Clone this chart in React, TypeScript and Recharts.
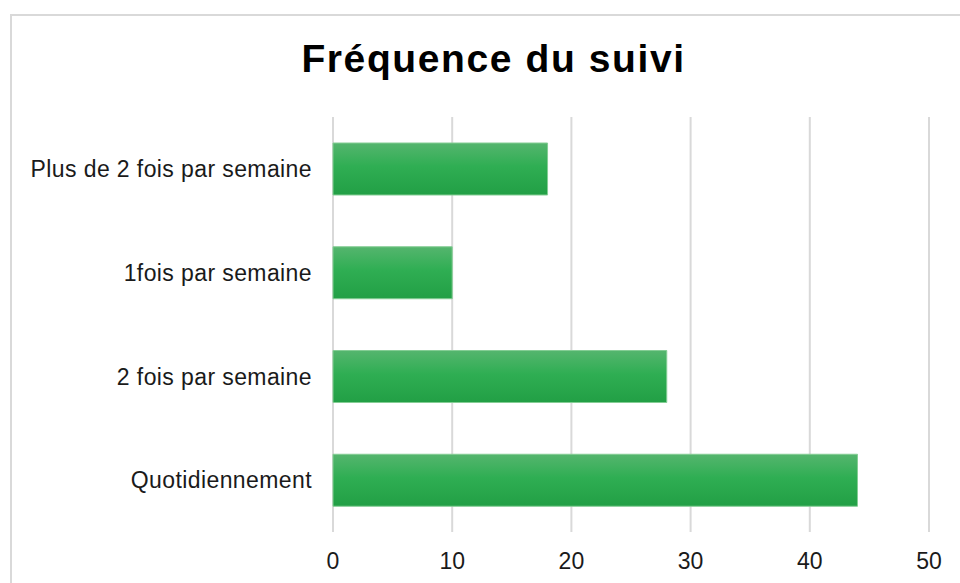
import React from "react";
import { BarChart, Bar, XAxis, YAxis, CartesianGrid } from "recharts";

const categories = [
  "Plus de 2 fois par semaine",
  "1fois par semaine",
  "2 fois par semaine",
  "Quotidiennement",
];
const counts = [18, 10, 28, 44];
const xTicks = [0, 10, 20, 30, 40, 50];

const data = categories.map((name, i) => ({ name, value: counts[i] }));

const FONT = '"Liberation Sans", Arial, sans-serif';

export default function App() {
  return (
    <div
      style={{
        position: "absolute",
        left: 0,
        top: 0,
        width: 960,
        height: 583,
        overflow: "hidden",
        background: "#fff",
        fontFamily: FONT,
      }}
    >
      {/* chart frame, runs past the right and bottom edge */}
      <div
        style={{
          position: "absolute",
          left: 10,
          top: 14,
          width: 980,
          height: 620,
          border: "2px solid #d9d9d9",
          boxSizing: "border-box",
        }}
      />
      <div
        style={{
          position: "absolute",
          left: 0,
          top: 39,
          width: 987,
          textAlign: "center",
          fontSize: 39,
          lineHeight: "39px",
          fontWeight: "bold",
          letterSpacing: 1.6,
          whiteSpace: "pre",
          color: "#000",
        }}
      >
        {"Fréquence du suivi"}
      </div>
      <div style={{ position: "absolute", left: 0, top: 0 }}>
        <BarChart
          width={960}
          height={583}
          data={data}
          layout="vertical"
          margin={{ top: 117, right: 31, bottom: 0, left: 0 }}
          barSize={52}
          style={{ fontFamily: FONT }}
        >
          <defs>
            <linearGradient id="barFill" x1="0" y1="0" x2="0" y2="1">
              <stop offset="0%" stopColor="#55b56e" />
              <stop offset="45%" stopColor="#2fae53" />
              <stop offset="100%" stopColor="#229f45" />
            </linearGradient>
          </defs>
          <CartesianGrid horizontal={false} stroke="#d9d9d9" strokeWidth={2} />
          <XAxis
            type="number"
            domain={[0, 50]}
            ticks={xTicks}
            height={51}
            axisLine={false}
            tickLine={false}
            tickSize={0}
            tickMargin={21}
            interval={0}
            tick={{ fill: "#1a1a1a", fontSize: 23 }}
          />
          <YAxis
            type="category"
            dataKey="name"
            width={333}
            axisLine={false}
            tickLine={false}
            tickSize={0}
            tickMargin={21}
            interval={0}
            tick={{ fill: "#1a1a1a", fontSize: 23, letterSpacing: 0.4 }}
          />
          <Bar
            dataKey="value"
            fill="url(#barFill)"
            stroke="#84cd94"
            strokeWidth={1}
            isAnimationActive={false}
          />
        </BarChart>
      </div>
    </div>
  );
}
